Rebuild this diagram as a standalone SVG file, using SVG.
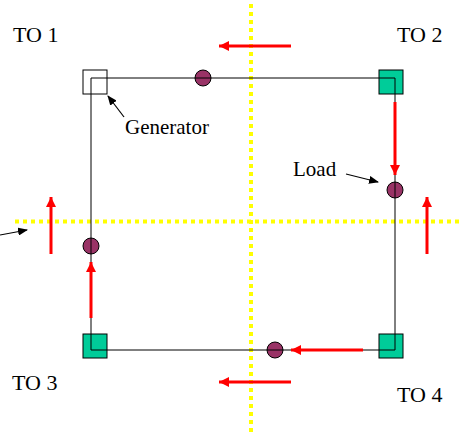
<svg xmlns="http://www.w3.org/2000/svg" width="460" height="435" viewBox="0 0 460 435">
<style>
.lbl{font-family:"Liberation Serif","Times New Roman",serif;fill:#000}
.to{font-size:22px}
.sm{font-size:21px}
.wire{stroke:#000;stroke-width:1;fill:none}
.axis{stroke:#ffff00;stroke-width:4;stroke-dasharray:4 4;fill:none}
.flow{stroke:#ff0000;stroke-width:3;fill:none;marker-end:url(#rh)}
.ptr{stroke:#000;stroke-width:1.2;fill:none;marker-end:url(#bh)}
.gen{fill:#00cc99;stroke:#000;stroke-width:1}
.load{fill:#993366;stroke:#000;stroke-width:1}
</style>
<defs>
<marker id="rh" markerWidth="4" markerHeight="4" refX="3.4" refY="2" orient="auto" markerUnits="strokeWidth">
<path d="M0,0.3 L3.4,2 L0,3.7 Z" fill="#ff0000"/>
</marker>
<marker id="bh" markerWidth="10" markerHeight="8" refX="9" refY="4" orient="auto" markerUnits="userSpaceOnUse">
<path d="M0,0 L10,4 L0,8 Z" fill="#000"/>
</marker>
</defs>
<g id="axes">
<line class="axis" x1="251" y1="4" x2="251" y2="435"/>
<line class="axis" x1="15" y1="221.5" x2="460" y2="221.5"/>
</g>
<g id="connectors">
<path class="wire" d="M91,78 H395 V350 H91 Z"/>
</g>
<g id="flows">
<line class="flow" x1="291" y1="46" x2="219" y2="46"/>
<line class="flow" x1="395" y1="102" x2="395" y2="175"/>
<line class="flow" x1="427" y1="254" x2="427" y2="197"/>
<line class="flow" x1="51" y1="254" x2="51" y2="197"/>
<line class="flow" x1="91" y1="318" x2="91" y2="262"/>
<line class="flow" x1="363" y1="350" x2="291" y2="350"/>
<line class="flow" x1="291" y1="382" x2="219" y2="382"/>
</g>
<g id="TO1">
<rect x="83" y="70" width="24" height="24" fill="none" stroke="#000" stroke-width="1"/>
<text class="lbl to" x="13" y="42">TO 1</text>
</g>
<g id="TO2">
<rect class="gen" x="379" y="70" width="24" height="24"/>
<path class="wire" d="M379,78 H395 V94"/>
<text class="lbl to" x="397" y="42">TO 2</text>
</g>
<g id="TO3">
<rect class="gen" x="83" y="334" width="24" height="24"/>
<path class="wire" d="M91,334 V350 H107"/>
<text class="lbl to" x="12" y="390">TO 3</text>
</g>
<g id="TO4">
<rect class="gen" x="379" y="334" width="24" height="24"/>
<path class="wire" d="M379,350 H395 V334"/>
<text class="lbl to" x="397" y="402">TO 4</text>
</g>
<g id="load-top"><circle class="load" cx="203" cy="78" r="8"/><line class="wire" x1="195" y1="78" x2="211" y2="78"/></g>
<g id="load-right"><circle class="load" cx="395" cy="190" r="8"/><line class="wire" x1="395" y1="182" x2="395" y2="198"/></g>
<g id="load-left"><circle class="load" cx="91" cy="246" r="8"/><line class="wire" x1="91" y1="238" x2="91" y2="254"/></g>
<g id="load-bottom"><circle class="load" cx="275" cy="350" r="8"/><line class="wire" x1="267" y1="350" x2="283" y2="350"/></g>
<g id="generator-label">
<text class="lbl sm" x="125" y="134">Generator</text>
<line class="ptr" x1="124" y1="117" x2="108" y2="96"/>
</g>
<g id="load-label">
<text class="lbl sm" x="293" y="176">Load</text>
<line class="ptr" x1="346" y1="174" x2="378" y2="182"/>
</g>
<g id="left-pointer">
<line class="ptr" x1="0" y1="235" x2="27" y2="230"/>
</g>
</svg>
